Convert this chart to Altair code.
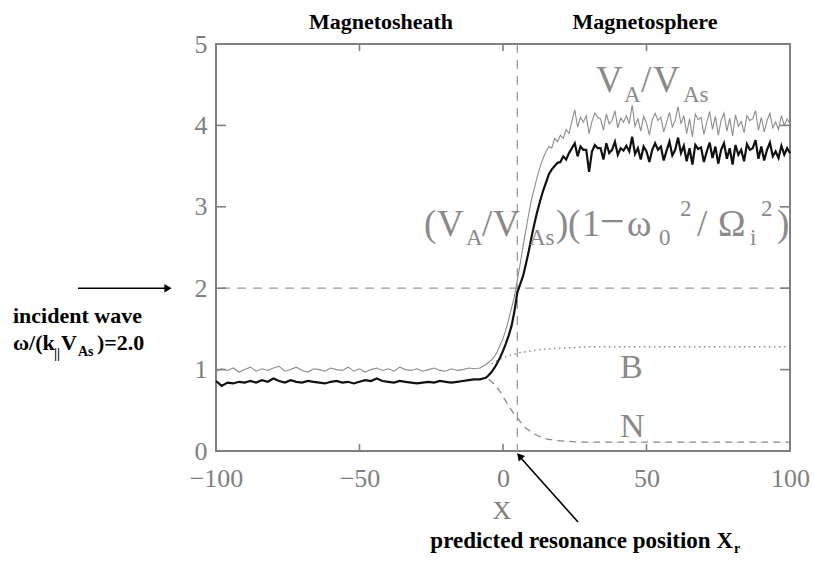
import altair as alt
import pandas as pd

# ---------------- data ----------------
x_left = list(range(-100, -9, 2))      # -100 .. -10, step 2
x_mid = list(range(-8, 10))            # -8 .. 9
x_right = list(range(10, 101))         # 10 .. 100

va_left = [0.98, 1.01, 0.99, 1.02, 0.97, 1.00, 1.03, 0.98, 1.01, 0.99,
           1.02, 1.04, 0.98, 1.00, 1.03, 0.99, 0.97, 1.01, 1.00, 0.98,
           1.02, 1.00, 0.99, 1.03, 0.98, 1.01, 0.97, 1.00, 1.02, 0.99,
           1.01, 0.98, 1.03, 1.00, 0.99, 1.01, 0.98, 1.00, 1.02, 0.99,
           0.98, 1.01, 0.99, 1.00, 1.02, 1.01]
va_mid = [1.02, 1.04, 1.06, 1.09, 1.12, 1.16, 1.22, 1.30, 1.38, 1.49,
          1.62, 1.76, 1.90, 2.10, 2.30, 2.52, 2.72, 2.92]
va_right = [3.10, 3.24, 3.38, 3.50, 3.60, 3.68, 3.74, 3.72, 3.84, 3.80,
            3.88, 3.84, 3.95, 3.90, 4.05, 4.19, 3.98, 4.10, 4.04, 4.12,
            3.90, 4.05, 4.15, 4.10, 4.08, 3.94, 4.14, 4.02, 4.06, 4.18,
            3.97, 4.09, 4.04, 4.12, 4.02, 4.25, 3.99, 4.08, 3.93, 4.11,
            4.03, 3.88, 4.07, 4.15, 4.06, 4.10, 3.92, 4.04, 4.16, 3.98,
            4.06, 4.23, 4.02, 4.12, 3.90, 4.08, 3.86, 4.14, 4.07, 4.10,
            3.89, 4.04, 4.17, 3.95, 4.11, 3.88, 4.06, 4.15, 3.93, 4.09,
            3.87, 4.13, 3.99, 4.05, 3.91, 4.12, 4.06, 4.08, 4.18, 3.94,
            4.10, 3.92, 4.06, 4.15, 3.97, 4.04, 3.95, 4.12, 4.00, 4.08,
            4.02]

vw_left = [0.86, 0.80, 0.84, 0.83, 0.85, 0.84, 0.86, 0.84, 0.87, 0.85,
           0.89, 0.86, 0.84, 0.87, 0.85, 0.84, 0.86, 0.85, 0.84, 0.83,
           0.85, 0.86, 0.84, 0.85, 0.83, 0.85, 0.87, 0.86, 0.89, 0.86,
           0.85, 0.84, 0.86, 0.85, 0.84, 0.83, 0.84, 0.85, 0.84, 0.86,
           0.85, 0.84, 0.85, 0.86, 0.87, 0.88]
vw_mid = [0.88, 0.89, 0.90, 0.93, 0.97, 1.02, 1.08, 1.15, 1.23, 1.32,
          1.42, 1.54, 1.72, 1.95, 2.05, 2.15, 2.30, 2.46]
vw_right = [2.64, 2.80, 2.95, 3.08, 3.20, 3.30, 3.40, 3.46, 3.50, 3.54,
            3.55, 3.62, 3.58, 3.66, 3.72, 3.78, 3.62, 3.74, 3.70, 3.70,
            3.43, 3.68, 3.76, 3.72, 3.72, 3.58, 3.78, 3.66, 3.70, 3.80,
            3.64, 3.72, 3.69, 3.75, 3.68, 3.86, 3.65, 3.72, 3.58, 3.74,
            3.68, 3.55, 3.70, 3.78, 3.70, 3.74, 3.57, 3.69, 3.80, 3.63,
            3.70, 3.85, 3.66, 3.75, 3.56, 3.72, 3.52, 3.76, 3.71, 3.73,
            3.55, 3.68, 3.79, 3.60, 3.74, 3.53, 3.70, 3.78, 3.59, 3.72,
            3.52, 3.76, 3.64, 3.70, 3.56, 3.77, 3.70, 3.72, 3.82, 3.59,
            3.74, 3.57, 3.70, 3.79, 3.62, 3.68, 3.60, 3.75, 3.64, 3.72,
            3.66]

b_x = [-4, -2, 0, 2, 4, 6, 8, 10, 14, 18, 24, 30, 40, 60, 80, 100]
b_vals = [1.07, 1.11, 1.14, 1.17, 1.19, 1.21, 1.22, 1.23, 1.25, 1.26,
          1.27, 1.28, 1.28, 1.28, 1.28, 1.28]

n_x = [-5, -3, -1, 0, 1, 2, 3, 4, 5, 6, 7, 8, 10, 12, 15, 18, 22, 26, 30,
       40, 60, 80, 100]
n_vals = [0.88, 0.82, 0.73, 0.67, 0.61, 0.55, 0.50, 0.45, 0.41, 0.36, 0.32,
          0.28, 0.23, 0.19, 0.15, 0.13, 0.12, 0.11, 0.11, 0.11, 0.11, 0.11,
          0.11]

x_ticks = [-100, -50, 0, 50, 100]
y_ticks = [0, 1, 2, 3, 4, 5]
x_inner_ticks = [-50, 0, 50]
y_inner_ticks = [1, 2, 3, 4]
incident_level = 2.0
resonance_x = 5

# ---------------- layout ----------------
W, H = 574, 407
PAD_L, PAD_T = 216, 44
GRAY = "#808080"
TXT_GRAY = "#8a8a8a"
SERIF = "Liberation Serif"


def dx(X):
    return -100 + (X - PAD_L) * 200 / W


def dy(Y):
    return (PAD_T + H - Y) * 5 / H


xs = alt.Scale(domain=[-100, 100], nice=False, zero=False)
ys = alt.Scale(domain=[0, 5], nice=False, zero=False)

x_axis = alt.Axis(values=x_ticks, ticks=False, domain=False, grid=False,
                  labelFont=SERIF, labelFontSize=26, labelColor=GRAY,
                  labelPadding=14, labelOverlap=False, labelFlush=False,
                  title=None)
y_axis = alt.Axis(values=y_ticks, ticks=False, domain=False, grid=False,
                  labelFont=SERIF, labelFontSize=26, labelColor=GRAY,
                  labelPadding=9, labelOverlap=False, labelFlush=False,
                  title=None)


def X(f):
    return alt.X(f, type="quantitative", scale=xs, axis=x_axis)


def Y(f):
    return alt.Y(f, type="quantitative", scale=ys, axis=y_axis)


lines_df = pd.DataFrame({
    "x": x_left + x_mid + x_right,
    "va": va_left + va_mid + va_right,
    "vw": vw_left + vw_mid + vw_right,
})
b_df = pd.DataFrame({"x": b_x, "v": b_vals})
n_df = pd.DataFrame({"x": n_x, "v": n_vals})

gray_line = alt.Chart(lines_df).mark_line(color="#8c8c8c", strokeWidth=1.1).encode(
    x=X("x"), y=Y("va"))
black_line = alt.Chart(lines_df).mark_line(color="#111111", strokeWidth=2.2).encode(
    x=X("x"), y=Y("vw"))
b_line = alt.Chart(b_df).mark_line(color="#8a8a8a", strokeWidth=1.4,
                                   strokeDash=[1.5, 3.5]).encode(x=X("x"), y=Y("v"))
n_line = alt.Chart(n_df).mark_line(color="#8a8a8a", strokeWidth=1.3,
                                   strokeDash=[7, 5]).encode(x=X("x"), y=Y("v"))

hline = alt.Chart(pd.DataFrame({"y": [incident_level]})).mark_rule(
    color="#9a9a9a", strokeWidth=1.3, strokeDash=[9, 7]).encode(y=Y("y"))
vline = alt.Chart(pd.DataFrame({"x": [resonance_x]})).mark_rule(
    color="#9a9a9a", strokeWidth=1.3, strokeDash=[9, 7]).encode(x=X("x"))

xt_df = pd.DataFrame({"x": x_inner_ticks})
yt_df = pd.DataFrame({"y": y_inner_ticks})
tick_style = dict(color=GRAY, strokeWidth=1.6)
ticks_bottom = alt.Chart(xt_df).mark_rule(**tick_style).encode(
    x=X("x"), y=alt.value(H), y2=alt.value(H - 7))
ticks_top = alt.Chart(xt_df).mark_rule(**tick_style).encode(
    x=X("x"), y=alt.value(0), y2=alt.value(7))
ticks_left = alt.Chart(yt_df).mark_rule(**tick_style).encode(
    y=Y("y"), x=alt.value(0), x2=alt.value(10))
ticks_right = alt.Chart(yt_df).mark_rule(**tick_style).encode(
    y=Y("y"), x=alt.value(W), x2=alt.value(W - 10))


def text_layer(items, size, color, weight="normal", align="left",
               baseline="alphabetic"):
    df = pd.DataFrame({"t": [i[0] for i in items],
                       "x": [dx(i[1]) for i in items],
                       "y": [dy(i[2]) for i in items]})
    return alt.Chart(df).mark_text(font=SERIF, fontSize=size, color=color,
                                   fontWeight=weight, align=align,
                                   baseline=baseline).encode(
        x=X("x"), y=Y("y"), text="t:N")


gray_big = [("V", 596, 92), ("/", 641, 92), ("V", 653, 92),
            ("(", 424, 236), ("V", 437, 236), ("/", 482, 236), ("V", 493, 236),
            (")", 556, 236), ("(", 568, 236), ("1", 582, 236),
            ("\u03c9", 627, 236), ("/", 697, 236), ("\u03a9", 718, 236),
            (")", 777, 236)]
gray_minus = [("\u2212", 600, 236)]
gray_small = [("A", 624, 102), ("As", 683, 102),
              ("A", 466, 245), ("As", 529, 245), ("0", 659, 245),
              ("2", 680, 216), ("i", 750, 245), ("2", 761, 216)]
gray_letters = [("B", 620, 378), ("N", 620, 437)]
axis_title = [("X", 502, 511)]

bold_center = [("Magnetosheath", 381, 29), ("Magnetosphere", 645, 29)]
bold_left = [("incident wave", 13, 323), ("\u03c9/(k", 13, 350),
             ("V", 61, 350), (")=2.0", 97, 350)]
bold_right = [("predicted resonance position X", 733, 548)]
bold_small = [("||", 54, 358), ("As", 78, 356), ("r", 734, 553)]

texts = [
    text_layer(gray_big, 37, TXT_GRAY),
    text_layer(gray_minus, 44, TXT_GRAY),
    text_layer(gray_small, 23, TXT_GRAY),
    text_layer(gray_letters, 34, TXT_GRAY),
    text_layer(axis_title, 26, GRAY, align="center", baseline="middle"),
    text_layer(bold_center, 22, "#000000", weight="bold", align="center"),
    text_layer(bold_left, 22, "#000000", weight="bold"),
    text_layer(bold_right, 23, "#000000", weight="bold", align="right"),
    text_layer(bold_small, 14, "#000000", weight="bold"),
]

# arrows
left_arrow = alt.Chart(pd.DataFrame({"x": [dx(78)], "x2": [dx(166)],
                                     "y": [incident_level]})).mark_rule(
    color="#000000", strokeWidth=1.6).encode(x=X("x"), x2=alt.X2("x2"), y=Y("y"))
left_head = alt.Chart(pd.DataFrame({"x": [dx(168)], "y": [incident_level]})).mark_point(
    shape="triangle-right", filled=True, color="#000000", size=70, opacity=1).encode(
    x=X("x"), y=Y("y"))
bot_arrow = alt.Chart(pd.DataFrame({"x": [dx(578)], "x2": [dx(520)],
                                    "y": [dy(522)], "y2": [dy(457)]})).mark_rule(
    color="#000000", strokeWidth=1.6).encode(x=X("x"), x2=alt.X2("x2"), y=Y("y"),
                                             y2=alt.Y2("y2"))
bot_head = alt.Chart(pd.DataFrame({"x": [dx(519.5)], "y": [dy(456)]})).mark_point(
    shape="triangle-up", filled=True, color="#000000", size=70, opacity=1,
    angle=318.5).encode(x=X("x"), y=Y("y"))

chart = alt.layer(
    hline, vline, b_line, n_line, gray_line, black_line,
    ticks_bottom, ticks_top, ticks_left, ticks_right,
    left_arrow, left_head, bot_arrow, bot_head,
    *texts
).properties(
    width=W, height=H,
    autosize=alt.AutoSizeParams(type="none"),
    padding={"left": PAD_L, "top": PAD_T, "right": 814 - PAD_L - W,
             "bottom": 562 - PAD_T - H},
    background="white",
).configure_view(stroke=GRAY, strokeWidth=2)

chart.save("out.html", embed_options={"renderer": "svg", "actions": False})
